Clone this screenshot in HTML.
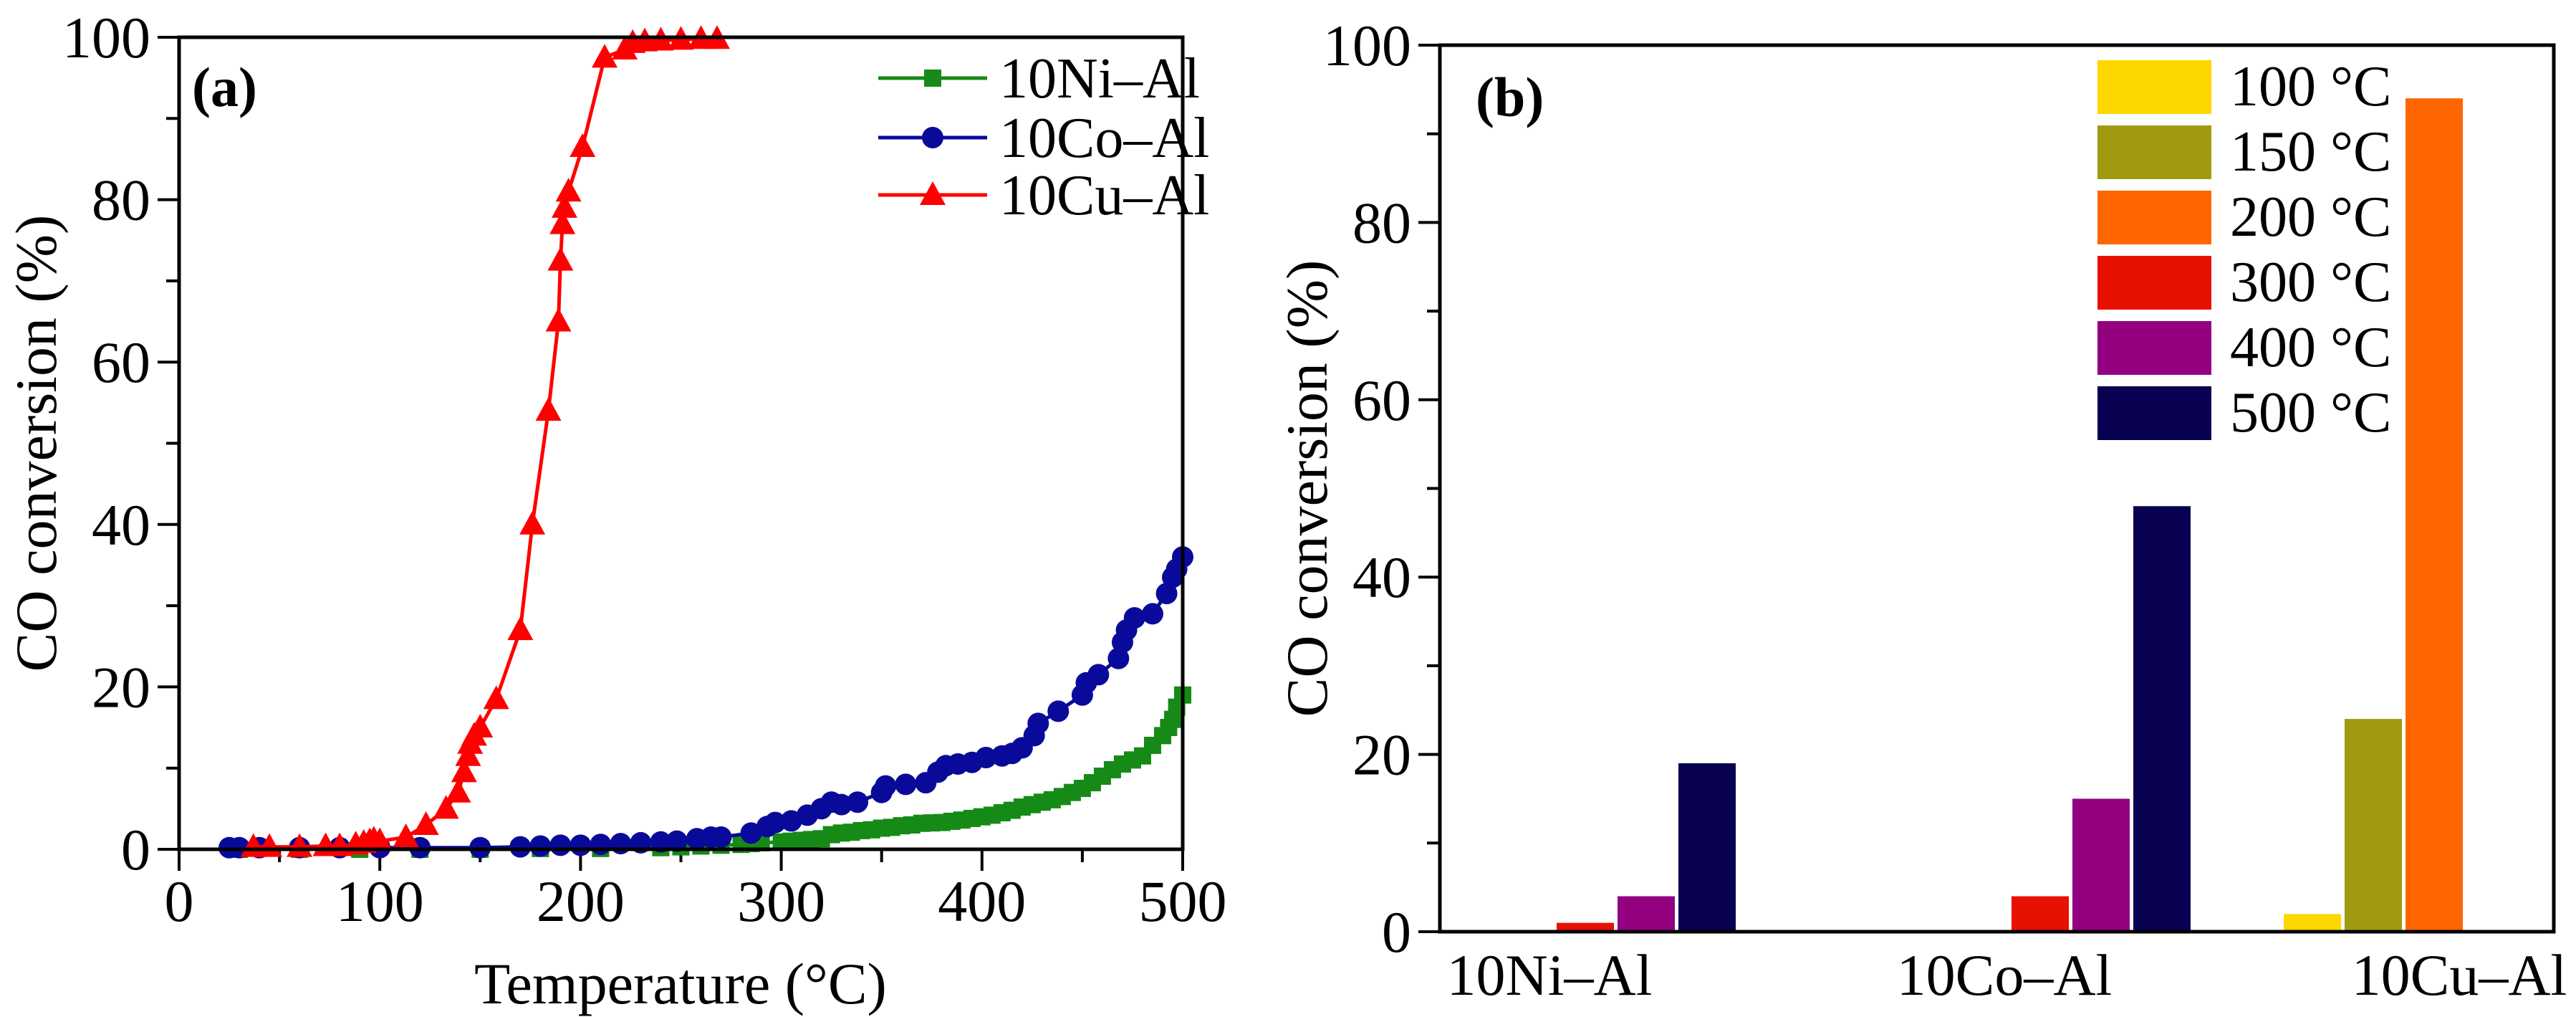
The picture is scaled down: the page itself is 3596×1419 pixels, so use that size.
<!DOCTYPE html>
<html><head><meta charset="utf-8"><style>
html,body{margin:0;padding:0;background:#fff}
svg{display:block;font-family:"Liberation Serif","DejaVu Serif",serif}
</style></head><body>
<svg id="s" xmlns="http://www.w3.org/2000/svg" width="3596" height="1419" viewBox="0 0 3596 1419"></svg>
<script>
// ---- Panel (a) data ----
const niX=[30,60,90,120,150,180,210,240,250,260,270,280,285,290,300,305,310,315,320,325,330,335,340,345,350,355,360,365,370,375,380,385,390,395,400,405,410,415,420,425,430,435,440,445,450,455,460,465,470,475,480,485,490,493,495,497,500];
const niY=[0,0,0,0,0,0.1,0.1,0.2,0.3,0.4,0.5,0.6,0.7,0.8,0.9,1,1.1,1.2,1.3,1.8,2,2.1,2.3,2.4,2.6,2.7,2.9,3,3.2,3.25,3.3,3.45,3.6,3.8,4,4.2,4.5,4.8,5.2,5.5,5.8,6.1,6.5,7,7.5,8.2,9,9.8,10.5,11,11.5,12.8,14,15,16,17.5,19];
const coX=[25,30,40,60,80,100,120,150,170,180,190,200,210,220,230,240,248,258,265,270,285,293,297,305,313,320,325,330,338,350,352,362,372,378,382,388,395,402,410,415,420,426,428,438,450,452,458,468,470,472,476,485,492,495,497,500];
const coY=[0.2,0.2,0.2,0.2,0.2,0.2,0.2,0.2,0.3,0.4,0.5,0.5,0.6,0.7,0.8,0.9,1,1.3,1.5,1.5,2,2.8,3.3,3.5,4.2,5,5.8,5.5,5.8,7,7.8,8,8.2,9.5,10.3,10.5,10.7,11.3,11.5,11.8,12.5,14,15.5,17,19,20.5,21.5,23.5,25.5,27,28.5,29,31.5,33.5,34.5,36];
const cuX=[37,45,60,73,80,88,92,95,97,100,113,123,133,139,142,144,145,147,150,158,170,176,184,189,190,191,192,194,201,212,222,226,232,240,250,260,268];
const cuY=[0.3,0.3,0.3,0.4,0.4,0.6,0.8,1,1.2,1,1.5,3,5,7,9.5,11.5,13,14,15,18.5,27,40,54,65,72.5,77,79,81,86.5,97.5,98.5,99.3,99.5,99.6,99.7,99.8,99.8];
const xTicksA=[0,100,200,300,400,500];
const yTicks=[0,20,40,60,80,100];
// ---- Panel (b) data ----
const categories=["10Ni\u2013Al","10Co\u2013Al","10Cu\u2013Al"];
const temps=["100 °C","150 °C","200 °C","300 °C","400 °C","500 °C"];
const barNi=[0,0,0,1,4,19];
const barCo=[0,0,0,4,15,48];
const barCu=[2,24,94,null,null,null];
const barColors=["#FFD700","#A09A10","#FF6600","#E81000","#930080","#080050"];

const S=document.getElementById('s');const NS="http://www.w3.org/2000/svg";
function mk(t,a,p){const e=document.createElementNS(NS,t);for(const k in a)e.setAttribute(k,a[k]);(p||S).appendChild(e);return e;}
const A={l:250,r:1651,t:52,b:1185};
const ax=v=>A.l+(v/500)*(A.r-A.l);
const ay=v=>A.b-(v/100)*(A.b-A.t);
let e;
for(let v=0;v<=500;v+=50){e=mk('line',{x1:ax(v),x2:ax(v),y1:A.b,y2:A.b+(v%100?18:30),stroke:'#000','stroke-width':4});
}
for(let v=0;v<=100;v+=10){e=mk('line',{x1:A.l,x2:A.l-(v%20?18:30),y1:ay(v),y2:ay(v),stroke:'#000','stroke-width':4});
}
xTicksA.forEach(v=>{e=mk('text',{x:ax(v),y:1285,'font-size':82,'text-anchor':'middle'});e.textContent=v;
});
yTicks.forEach(v=>{e=mk('text',{x:A.l-40,y:ay(v)+28,'font-size':82,'text-anchor':'end'});e.textContent=v;
});
e=mk('text',{x:A.l+700,y:1400,'font-size':82,'text-anchor':'middle'});e.textContent="Temperature (°C)";

e=mk('text',{x:0,y:0,'font-size':82,'text-anchor':'middle',transform:`translate(78,${(A.t+A.b)/2}) rotate(-90)`});e.textContent="CO conversion (%)";

e=mk('text',{x:268,y:148,'font-size':78,'font-weight':'bold'});e.textContent="(a)";

function marker(kind,x,y,col,g){
 if(kind==='sq')return mk('rect',{x:x-12,y:y-12,width:24,height:24,fill:col},g);
 if(kind==='ci')return mk('circle',{cx:x,cy:y,r:15,fill:col},g);
 return mk('polygon',{points:`${x},${y-19} ${x-18},${y+14} ${x+18},${y+14}`,fill:col},g);}
function series(xs,ys,col,kind,name){
 const g=mk('g',{});
 mk('polyline',{points:xs.map((x,i)=>ax(x)+','+ay(ys[i])).join(' '),fill:'none',stroke:col,'stroke-width':5},g);
 xs.forEach((x,i)=>{const m=marker(kind,ax(x),ay(ys[i]),col,g);});}
series(niX,niY,'#168a16','sq','series-10ni-al');
series(coX,coY,'#0a0a9a','ci','series-10co-al');
series(cuX,cuY,'#ff0000','tr','series-10cu-al');
e=mk('rect',{x:A.l,y:A.t,width:A.r-A.l,height:A.b-A.t,fill:'none',stroke:'#000','stroke-width':5});

[["10Ni\u2013Al",'#168a16','sq',109],["10Co\u2013Al",'#0a0a9a','ci',192],["10Cu\u2013Al",'#ff0000','tr',272]].forEach(([t,c,k,y])=>{
 const g=mk('g',{});
 mk('line',{x1:1226,x2:1378,y1:y,y2:y,stroke:c,'stroke-width':5},g);marker(k,1302,y,c,g);
 const tx=mk('text',{x:1395,y:y+27,'font-size':80},g);tx.textContent=t;});
const B={l:2010,r:3565,t:63,b:1300};
const by=v=>B.b-(v/100)*(B.b-B.t);
const groupStride=635, slot=85, barW=80, firstCenter=2171;
const gx=i=>firstCenter+i*groupStride;
for(let v=0;v<=100;v+=10){e=mk('line',{x1:B.l,x2:B.l-(v%20?18:30),y1:by(v),y2:by(v),stroke:'#000','stroke-width':4});
}
yTicks.forEach(v=>{e=mk('text',{x:B.l-40,y:by(v)+28,'font-size':82,'text-anchor':'end'});e.textContent=v;
});
e=mk('text',{x:0,y:0,'font-size':82,'text-anchor':'middle',transform:`translate(1852,${(B.t+B.b)/2}) rotate(-90)`});e.textContent="CO conversion (%)";

[barNi,barCo,barCu].forEach((vals,gi)=>{
 vals.forEach((v,si)=>{if(v===null||v<=0)return;
  const x=gx(gi)+(si-3)*slot+2;
  const r=mk('rect',{x:x,y:by(v),width:barW,height:B.b-by(v),fill:barColors[si]});
  });
 const t=mk('text',{x:gx(gi)-8,y:1388,'font-size':82,'text-anchor':'middle'});t.textContent=categories[gi];
 });
e=mk('rect',{x:B.l,y:B.t,width:B.r-B.l,height:B.b-B.t,fill:'none',stroke:'#000','stroke-width':5});

temps.forEach((t,i)=>{const y=84+i*91;
 const g=mk('g',{});
 mk('rect',{x:2928,y:y,width:159,height:75,fill:barColors[i]},g);
 const tx=mk('text',{x:3113,y:y+63,'font-size':80},g);tx.textContent=t;});
e=mk('text',{x:2060,y:162,'font-size':78,'font-weight':'bold'});e.textContent="(b)";

</script>
</body></html>
